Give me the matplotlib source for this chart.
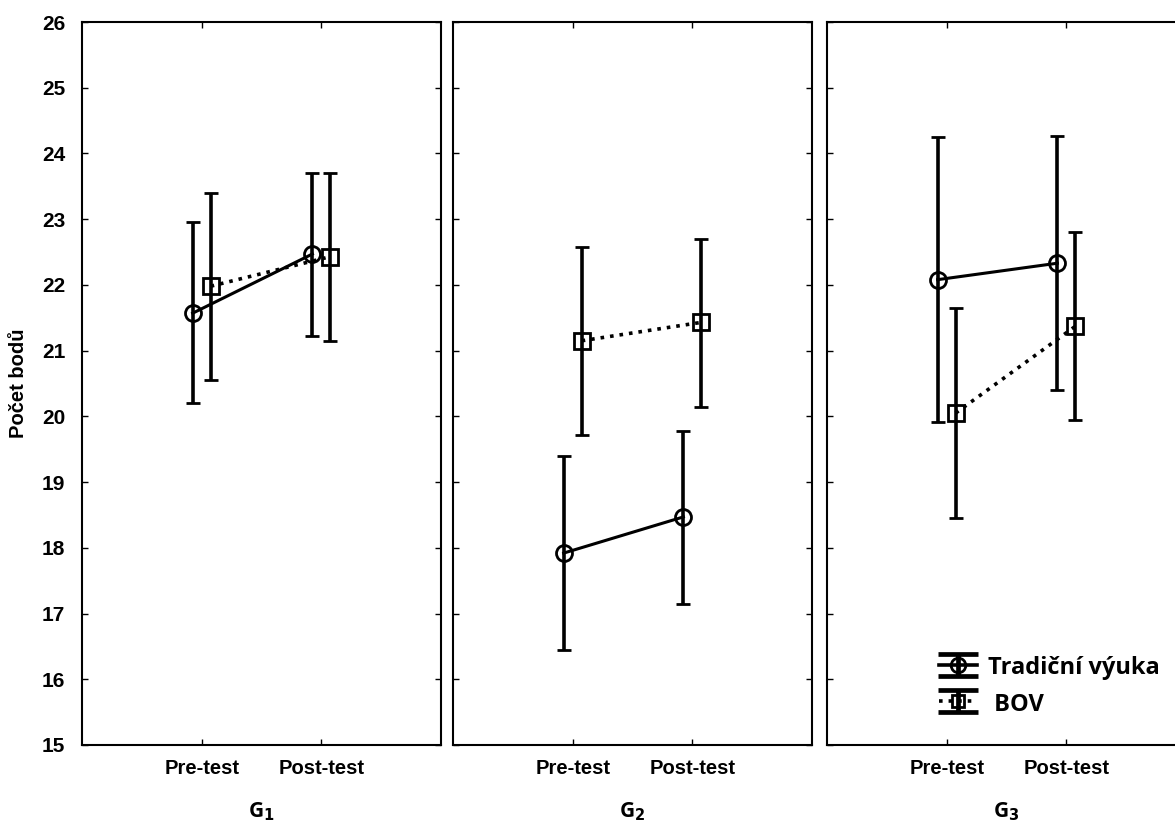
import matplotlib.pyplot as plt
from matplotlib.lines import Line2D
from matplotlib.path import Path
from matplotlib.legend_handler import HandlerTuple

groups = ["G$_\\mathbf{1}$", "G$_\\mathbf{2}$", "G$_\\mathbf{3}$"]
tests = ["Pre-test", "Post-test"]

# Tradiční výuka: means and error bar ends per group (pre, post)
trad_mean = [[21.57, 22.47], [17.92, 18.47], [22.08, 22.33]]
trad_low = [[20.20, 21.23], [16.45, 17.15], [19.92, 20.40]]
trad_high = [[22.95, 23.70], [19.40, 19.78], [24.25, 24.27]]

# BOV
bov_mean = [[21.98, 22.43], [21.15, 21.43], [20.05, 21.37]]
bov_low = [[20.55, 21.15], [19.72, 20.15], [18.45, 19.95]]
bov_high = [[23.40, 23.70], [22.58, 22.70], [21.65, 22.80]]

fig = plt.figure(figsize=(11.75, 8.23), dpi=100)

lefts = [82, 453, 827]
width = 359
bottom = 1 - 745 / 823
height = (745 - 22) / 823
x = [0, 1]
off = 0.075

axes = []
for i, g in enumerate(groups):
    ax = fig.add_axes([lefts[i] / 1175, bottom, width / 1175, height])
    axes.append(ax)

    # traditional: solid line, circles
    xs = [v - off for v in x]
    m = trad_mean[i]
    err = [[m[k] - trad_low[i][k] for k in range(2)], [trad_high[i][k] - m[k] for k in range(2)]]
    ax.errorbar(xs, m, yerr=err, fmt="-o", color="black", lw=2.2, elinewidth=2.6,
                capsize=4.8, capthick=2.8, ms=11.5, mfc="none", mew=2, zorder=3)

    # BOV: dotted line, squares
    xs = [v + off for v in x]
    m = bov_mean[i]
    err = [[m[k] - bov_low[i][k] for k in range(2)], [bov_high[i][k] - m[k] for k in range(2)]]
    ax.errorbar(xs, m, yerr=err, fmt=":s", color="black", lw=2.6, elinewidth=2.6,
                capsize=4.8, capthick=2.8, ms=11, mfc="none", mew=2, zorder=3)

    ax.set_xlim(-1, 2)
    ax.set_ylim(15, 26)
    ax.set_xticks(x)
    ax.set_xticklabels(tests, fontsize=14.5, fontweight="bold", family="Liberation Sans")
    ax.set_yticks(range(15, 27))
    ax.tick_params(direction="in", top=True, right=True, length=4, width=1, pad=10)
    ax.tick_params(axis="y", labelsize=15, pad=12)
    for lab in ax.get_yticklabels():
        lab.set_fontweight("bold")
        lab.set_family("Liberation Sans")
    if i > 0:
        ax.set_yticklabels([])
    for s in ax.spines.values():
        s.set_linewidth(1.5)
    ax.set_xlabel(g, fontsize=15, fontweight="bold", family="Open Sans", labelpad=16)

axes[0].set_ylabel("Počet bodů", fontsize=14.5, fontweight="bold", family="Liberation Sans", labelpad=10)

# legend icon: wide caps just above and below the series line
bars = Path([(-1, 0.55), (1, 0.55), (-1, -0.55), (1, -0.55), (0, 0.55), (0, -0.55)],
            [Path.MOVETO, Path.LINETO, Path.MOVETO, Path.LINETO, Path.MOVETO, Path.LINETO])
bar_handle = Line2D([], [], marker=bars, ms=29, mew=3.4, color="black", ls="none")
trad_handle = Line2D([], [], ls="-", lw=2.6, marker="o", ms=10.5, mfc="none", mew=2, color="black")
bov_handle = Line2D([], [], ls=":", lw=2.6, marker="s", ms=9, mfc="none", mew=2, color="black")

axes[2].legend([(bar_handle, trad_handle), (bar_handle, bov_handle)], ["Tradiční výuka", " BOV"],
               handler_map={tuple: HandlerTuple(ndivide=1)},
               loc="lower right", bbox_to_anchor=(0.985, 0.01), frameon=False,
               handlelength=1.6, handleheight=1.0, handletextpad=0.45, labelspacing=0.5,
               prop={"family": "Open Sans", "weight": "bold", "size": 17})

fig.savefig("out.png", dpi=100)
